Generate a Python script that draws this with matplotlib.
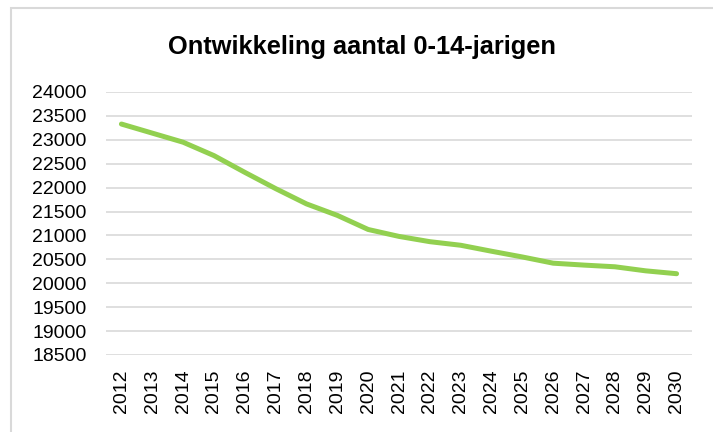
import matplotlib
matplotlib.use('Agg')
import matplotlib.pyplot as plt
from matplotlib.patches import Rectangle

plt.rcParams['font.family'] = ['Liberation Sans', 'DejaVu Sans']

# data
years = [str(y) for y in range(2012, 2031)]
aantal = [23330, 23140, 22950, 22670, 22320, 21980, 21660, 21420, 21125,
          20980, 20870, 20795, 20670, 20550, 20420, 20380, 20345, 20260, 20200]
y_ticks = list(range(18500, 24001, 500))

fig = plt.figure(figsize=(7.13, 4.32), dpi=100)
ax = fig.add_axes([106 / 713, 1 - 355 / 432, (692 - 106) / 713, (355 - 92) / 432])

x = list(range(len(years)))
ax.plot(x, aantal, color='#92D050', linewidth=3.6, solid_capstyle='round', zorder=3)

ax.set_xlim(-0.5, len(years) - 0.5)
ax.set_ylim(18500, 24000)
ax.set_yticks(y_ticks)
ax.set_yticklabels([str(v) for v in y_ticks], fontsize=14)
ax.set_xticks(x)
ax.set_xticklabels(years, rotation=90, fontsize=14)
ax.tick_params(axis='both', length=0, colors='black')
ax.tick_params(axis='y', pad=14)
ax.tick_params(axis='x', pad=10.5)

ax.grid(axis='y', color='#d9d9d9', linewidth=1.2)
ax.set_axisbelow(True)
for s in ax.spines.values():
    s.set_visible(False)

fig.text(362 / 713, 1 - 47 / 432, 'Ontwikkeling aantal 0-14-jarigen',
         ha='center', va='center', fontsize=18.3, fontweight='bold')

# chart border (only top and left visible in the crop)
fig.patches.append(Rectangle((11 / 713, -0.1), 1.2, 1 - 8 / 432 + 0.1,
                             transform=fig.transFigure, fill=False,
                             edgecolor='#d9d9d9', linewidth=1.5))

fig.savefig('out.png', dpi=100)
